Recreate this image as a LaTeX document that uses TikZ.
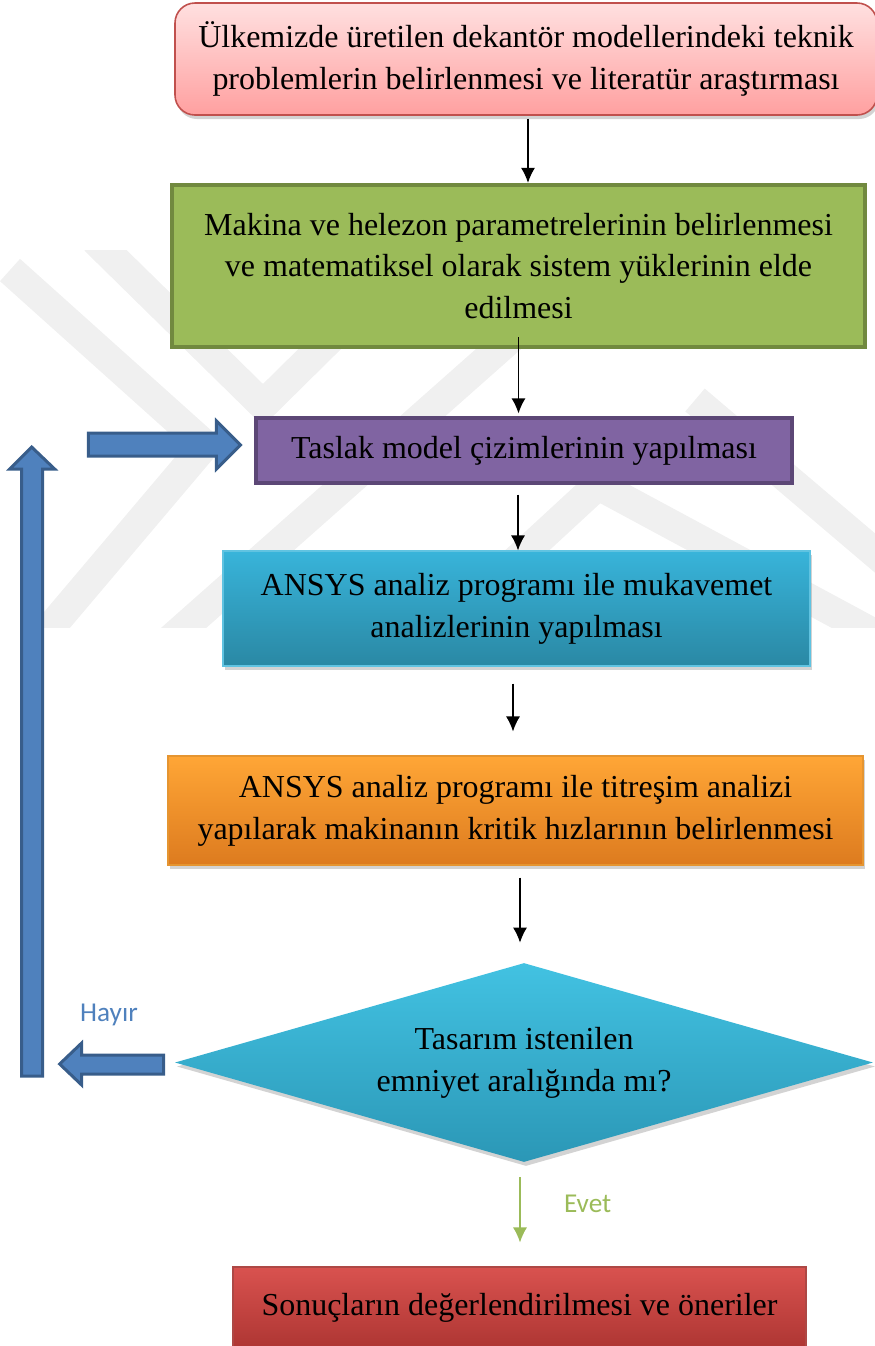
\documentclass[tikz,border=0pt]{standalone}
\usepackage{fontspec}
\setmainfont{Liberation Serif}
\newfontfamily\etiketfont{Carlito}
\usetikzlibrary{arrows.meta,shapes.geometric,shadows}

\definecolor{pembeust}{HTML}{FFE0E0}
\definecolor{pembealt}{HTML}{FFA0A0}
\definecolor{kirmizicizgi}{HTML}{C0504D}
\definecolor{yesil}{HTML}{9BBB59}
\definecolor{yesilcizgi}{HTML}{71893F}
\definecolor{mor}{HTML}{8064A2}
\definecolor{morcizgi}{HTML}{5C4776}
\definecolor{turkuazust}{HTML}{38B4DA}
\definecolor{turkuazalt}{HTML}{2A88A4}
\definecolor{turuncuust}{HTML}{FFA636}
\definecolor{turuncualt}{HTML}{DD7B1F}
\definecolor{kararust}{HTML}{42C2E2}
\definecolor{kararalt}{HTML}{2B97B6}
\definecolor{sonust}{HTML}{D9524F}
\definecolor{sonalt}{HTML}{AE3633}
\definecolor{mavi}{HTML}{4F81BD}
\definecolor{mavicizgi}{HTML}{385D8A}
\definecolor{filigran}{HTML}{F0F0F0}

\begin{document}
\begin{tikzpicture}[>={Latex[length=0.3cm,width=0.28cm]},
  kutu/.style={draw, inner sep=0pt, align=center,
    font=\fontsize{18.2}{23.8}\selectfont},
  golge/.style={drop shadow={opacity=0.35, shadow xshift=0.04cm, shadow yshift=-0.08cm}},
  ok/.style={->, line width=0.8pt},
  blok/.style={fill=mavi, draw=mavicizgi, line width=1.7pt, line join=miter},
  etiket/.style={font=\etiketfont\fontsize{15.5}{18}\selectfont}]

\useasboundingbox (0,0) rectangle (17.5,-26.92);

\def\logo{
\begin{scope}
\clip (0,-5.0) rectangle (17.5,-12.54);
\draw[filigran, line width=0.6cm] (1.9,-4.8)--(5.26,-8.1)--(8.4,-5.0);
\draw[filigran, line width=0.6cm] (0.2,-5.4)--(4.1,-8.9)--(0.8,-12.8);
\draw[filigran, line width=0.6cm] (3.4,-12.8)--(10.4,-6.6);
\draw[filigran, line width=0.6cm] (8.6,-12.8)--(11.96,-9.7)--(17.9,-12.9);
\draw[filigran, line width=0.6cm] (13.9,-8.0)--(17.9,-11.4);
\end{scope}
}
\logo

\node[kutu, golge, rounded corners=0.4cm, minimum width=14.04cm, minimum height=2.24cm,
  top color=pembeust, bottom color=pembealt, draw=kirmizicizgi, line width=0.9pt]
  (sorun) at (10.52,-1.18)
  {Ülkemizde üretilen dekantör modellerindeki teknik\\problemlerin belirlenmesi ve literatür araştırması};

\node[kutu, minimum width=13.86cm, minimum height=3.24cm,
  fill=yesil, draw=yesilcizgi, line width=2.4pt]
  (parametre) at (10.37,-5.32)
  {Makina ve helezon parametrelerinin belirlenmesi\\ve matematiksel olarak sistem yüklerinin elde\\edilmesi};

\node[kutu, minimum width=10.72cm, minimum height=1.3cm,
  fill=mor, draw=morcizgi, line width=1.8pt]
  (taslak) at (10.48,-9.01)
  {Taslak model çizimlerinin yapılması};

\node[kutu, golge, minimum width=11.74cm, minimum height=2.3cm,
  top color=turkuazust, bottom color=turkuazalt, draw=turkuazust!80!white, line width=0.6pt]
  (mukavemet) at (10.33,-12.17)
  {ANSYS analiz programı ile mukavemet\\analizlerinin yapılması};

\node[kutu, golge, minimum width=13.9cm, minimum height=2.18cm,
  top color=turuncuust, bottom color=turuncualt, draw=turuncuust!90!black, line width=0.6pt]
  (titresim) at (10.31,-16.21)
  {ANSYS analiz programı ile titreşim analizi\\yapılarak makinanın kritik hızlarının belirlenmesi};

\node[kutu, golge, diamond, aspect=3.5, draw=none, minimum width=13.96cm, minimum height=3.98cm,
  top color=kararust, bottom color=kararalt]
  (karar) at (10.48,-21.25)
  {Tasarım istenilen\\emniyet aralığında mı?};

\node[kutu, minimum width=11.46cm, minimum height=1.62cm,
  top color=sonust, bottom color=sonalt, draw=kirmizicizgi!90!black, line width=0.6pt]
  (sonuc) at (10.39,-26.15)
  {Sonuçların değerlendirilmesi ve öneriler};

\draw[ok] ([xshift=0.04cm,yshift=-0.06cm]sorun.south) -- ([xshift=0.04cm]sorun.south |- parametre.north);
\draw[ok] ([yshift=0.24cm]parametre.south) -- ([yshift=0.06cm]parametre.south |- taslak.north);
\draw[ok] ([xshift=-0.12cm,yshift=-0.2cm]taslak.south) -- ([xshift=-0.12cm]taslak.south |- mukavemet.north);
\draw[ok] ([xshift=-0.07cm,yshift=-0.34cm]mukavemet.south) -- ([xshift=-0.07cm,yshift=0.48cm]mukavemet.south |- titresim.north);
\draw[ok] ([xshift=0.09cm,yshift=-0.24cm]titresim.south) -- ([xshift=0.09cm,yshift=0.4cm]titresim.south |- karar.north);
\draw[ok, yesil] ([xshift=-0.08cm,yshift=-0.3cm]karar.south) -- ([xshift=-0.08cm,yshift=0.48cm]karar.south |- sonuc.north)
  node[etiket, text=yesil, pos=0.4, right=0.75cm] (evet) {Evet};

\node[etiket, text=mavi] (hayir) at (2.18,-20.3) {Hayır};

\begin{scope}[shift={(karar.west)}]
\filldraw[blok] (-0.22,0.15)--(-1.86,0.15)--(-1.86,0.39)--(-2.3,-0.03)--(-1.86,-0.45)--(-1.86,-0.23)--(-0.22,-0.23)--cycle;
\filldraw[blok] (-3.06,-0.27)--(-3.06,11.87)--(-3.3,11.87)--(-2.86,12.31)--(-2.4,11.87)--(-2.64,11.87)--(-2.64,-0.27)--cycle;
\end{scope}

\begin{scope}[shift={(taslak.west)}]
\filldraw[blok] (-3.32,0.35)--(-0.76,0.35)--(-0.76,0.59)--(-0.28,0.11)--(-0.76,-0.37)--(-0.76,-0.11)--(-3.32,-0.11)--cycle;
\end{scope}

\end{tikzpicture}
\end{document}
